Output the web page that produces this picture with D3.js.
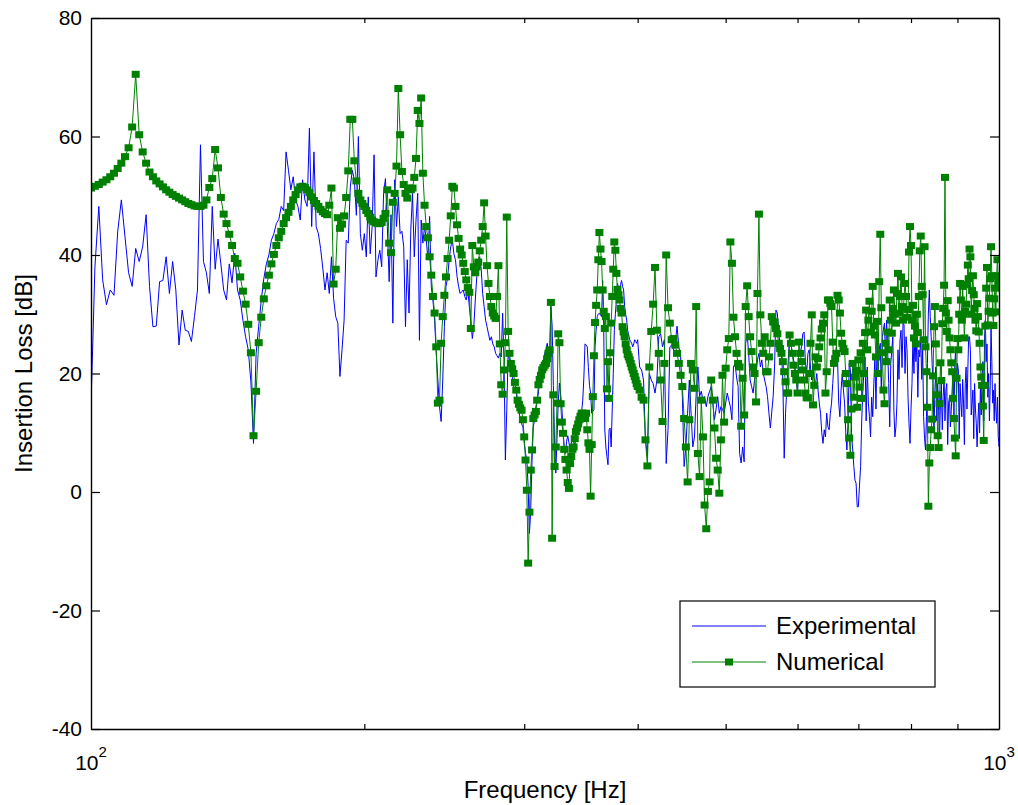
<!DOCTYPE html>
<html>
<head>
<meta charset="utf-8">
<script src="https://cdn.jsdelivr.net/npm/d3@7"></script>
<style>
  body { margin: 0; background: #fff; }
  svg { display: block; }
  text { font-family: "Liberation Sans", Arial, Helvetica, sans-serif; fill: #000; }
</style>
</head>
<body>
<svg id="chart" width="1018" height="805"></svg>
<script>
// Frequency sampling bands [start Hz, end Hz, step Hz]
const bands = [[100, 400, 1], [402, 1000, 2]];

// Measured insertion loss (dB) on the band grid
const experimental = [
  14.5, 38.0, 48.2, 35.8, 31.6, 34.1, 33.2, 43.9, 49.3, 43.1,
  37.0, 34.7, 41.1, 38.9, 41.4, 46.8, 34.7, 27.9, 28.0, 35.5,
  35.7, 39.7, 33.5, 38.9, 34.1, 24.8, 30.7, 27.3, 27.1, 25.4,
  29.6, 34.1, 58.6, 38.9, 37.0, 33.5, 48.2, 37.6, 42.7, 38.5,
  34.1, 32.4, 38.5, 35.3, 40.3, 34.1, 32.4, 29.0, 26.2, 24.0,
  18.6, 8.2, 23.4, 28.0, 32.4, 36.0, 38.5, 40.0, 42.5, 43.6,
  45.3, 46.0, 48.2, 47.5, 57.4, 54.3, 51.0, 53.2, 49.3, 48.2,
  45.9, 52.7, 49.3, 48.2, 61.4, 44.8, 57.4, 44.8, 43.6, 41.1,
  37.8, 34.1, 37.0, 33.5, 39.7, 32.7, 29.6, 28.5, 19.5, 24.0,
  29.0, 42.5, 42.0, 51.5, 54.3, 52.7, 46.7, 60.0, 43.6, 40.8,
  43.6, 39.7, 49.8, 40.2, 44.8, 56.9, 36.3, 39.1, 40.8, 38.0,
  50.4, 52.9, 44.8, 35.5, 46.8, 28.5, 52.7, 44.8, 49.8, 43.6,
  44.0, 41.4, 27.9, 39.2, 30.2, 44.2, 50.4, 39.7, 45.9, 50.4,
  25.6, 45.9, 42.0, 44.8, 42.7, 39.2, 46.5, 34.7, 32.4, 29.0,
  23.4, 18.9, 14.4, 11.9, 18.9, 27.9, 34.7, 36.1, 39.2, 41.4,
  42.5, 40.2, 39.2, 36.4, 34.7, 33.5, 33.8, 34.1, 33.0, 32.4,
  34.1, 31.3, 29.0, 25.9, 28.0, 32.4, 36.4, 39.2, 39.7, 37.6,
  33.5, 31.3, 29.0, 27.9, 26.7, 25.6, 26.2, 25.0, 24.5, 23.4,
  23.0, 22.6, 23.4, 22.8, 30.2, 22.3, 5.4, 13.8, 23.4, 22.3,
  21.1, 19.5, 17.8, 17.0, 16.7, 15.0, 13.8, 12.2, 11.5, 11.0,
  8.2, 6.5, 5.4, 0.9, -7.0, -3.0, 5.4, 11.0, 12.2, 14.4,
  15.5, 16.7, 18.9, 20.6, 21.5, 22.3, 23.4, 24.0, 25.1, 23.5,
  22.3, 31.3, 28.0, 18.0, 8.0, 3.2, 9.0, 15.0, 18.4, 16.5,
  14.4, 10.5, 7.6, 6.5, 8.5, 9.5, 8.4, 7.0, 8.2, 9.5,
  8.5, 7.8, 9.0, 10.5, 10.0, 11.0, 12.2, 13.5, 15.5, 19.4,
  25.0, 24.8, 24.5, 21.0, 18.0, 16.7, 13.3, 13.6, 13.9, 24.5,
  27.3, 29.6, 30.0, 30.2, 29.9, 29.6, 35.7, 28.0, 10.5, 7.6,
  6.0, 4.6, 10.5, 10.8, 7.6, 14.0, 20.0, 27.3, 30.0, 32.4,
  35.2, 34.5, 34.1, 35.0, 35.7, 34.7, 34.1, 31.3, 30.0, 29.0,
  27.3, 26.5, 25.7, 25.4, 25.1, 24.5, 25.0, 25.7, 25.4, 25.1,
  25.7,
  21.1, 20.6, 18.9, 8.8, 6.0, 20.0, 18.9, 18.3, 16.7, 18.9,
  26.2, 26.7, 24.5, 25.7, 4.8, 10.5, 24.5, 24.8, 24.0, 25.1,
  28.0, 24.5, 22.8, 16.1, 4.3, 7.6, 13.3, 18.9, 13.3, 7.6,
  9.3, 16.7, 21.1, 16.1, 17.0, 15.5, 16.1, 14.4, 16.1, 17.0,
  17.8, 15.0, 12.2, 14.0, 16.1, 13.3, 14.4, 14.0, 13.3, 15.0,
  16.7, 15.5, 14.4, 12.2, 21.1, 21.7, 19.4, 17.8, 6.5, 4.9,
  7.6, 5.1, 25.1, 26.7, 23.4, 18.9, 17.8, 16.7, 18.9, 20.0,
  22.3, 23.4, 21.1, 22.3, 20.0, 18.9, 17.8, 16.1, 13.3, 10.8,
  13.5, 16.1, 21.1, 30.7, 30.2, 26.7, 25.0, 23.4, 18.9, 5.7,
  13.3, 18.0, 22.3, 26.2, 25.1, 23.4, 22.3, 21.1, 18.9, 16.7,
  24.0, 23.4, 24.5, 26.7, 27.0, 22.0, 20.0, 23.4, 24.0, 21.1,
  18.9, 21.1, 18.3, 18.3, 20.0, 17.2, 15.0, 13.3, 10.0, 8.2,
  10.5, 9.3, 13.3, 11.0, 10.5, 13.3, 15.0, 18.3, 21.7, 22.5,
  24.5, 22.8, 15.0, 12.7, 17.2, 20.0, 17.2, 15.0, 10.0, 7.1,
  12.0, 21.7, 20.6, 10.0, 7.1, 4.3, 2.0, 1.5, -2.5, -2.5,
  1.0, 4.3, 12.0, 17.2, 20.3, 22.8, 12.0, 21.1, 15.0, 12.7,
  9.3, 16.0, 12.7, 18.3, 22.8, 14.0, 25.7, 20.0, 24.0, 25.1,
  17.0, 26.2, 27.5, 28.5, 22.0, 29.0, 24.0, 18.3, 11.0, 21.7,
  24.0, 26.2, 13.8, 9.3, 11.0, 15.0, 24.0, 19.0, 25.7, 27.3,
  21.0, 28.5, 28.2, 20.0, 26.2, 24.0, 16.0, 11.6, 8.2, 14.0,
  18.3, 26.2, 20.0, 27.3, 22.0, 25.1, 16.0, 24.0, 22.8, 26.2,
  19.0, 24.0, 12.7, 9.0, 7.1, 12.7, 21.7, 30.2, 34.1, 29.6,
  26.2, 21.7, 18.3, 10.0, 17.2, 21.1, 12.0, 18.3, 13.8, 9.0,
  15.0, 18.3, 10.5, 16.1, 19.4, 12.0, 17.2, 18.3, 8.0, 15.0,
  16.1, 11.0, 13.8, 17.2, 20.6, 12.0, 21.7, 24.0, 16.0, 21.7,
  20.6, 9.0, 18.3, 15.0, 12.7, 19.0, 15.0, 8.0, 18.3, 21.1,
  14.0, 20.6, 26.2, 26.2, 24.0, 13.0, 15.0, 17.2, 9.0, 18.3,
  14.0, 11.6, 7.6, 12.0, 15.0, 10.0, 18.0, 13.0, 20.0, 22.0,
  12.0, 26.0, 29.0, 22.0, 25.0, 16.0, 20.0, 12.0, 18.0, 28.0,
  22.0, 15.0, 17.2, 12.0, 18.3, 14.0, 11.6, 16.0, 9.5, 7.6
];

// Computed insertion loss (dB) on the same grid
const numerical = [
  51.3, 51.6, 51.9, 52.3, 52.7, 53.2, 53.8, 54.6, 55.5, 56.6,
  58.1, 61.6, 70.5, 60.3, 57.4, 55.5, 54.0, 53.2, 52.5, 52.0,
  51.5, 51.0, 50.6, 50.2, 49.9, 49.6, 49.3, 49.0, 48.7, 48.5,
  48.3, 48.2, 48.2, 48.4, 49.3, 51.4, 52.9, 57.8, 54.7, 49.7,
  46.9, 45.3, 43.5, 41.6, 39.4, 38.6, 36.3, 33.9, 31.7, 28.3,
  23.5, 9.5, 17.0, 25.2, 29.5, 32.6, 34.8, 36.6, 38.5, 40.1,
  41.6, 42.9, 44.0, 45.3, 46.3, 47.2, 48.2, 49.3, 50.2, 51.0,
  51.5, 51.6, 51.4, 51.0, 50.5, 49.8, 49.2, 48.7, 48.2, 47.7,
  47.3, 47.0, 46.8, 48.4, 51.3, 35.1, 37.6, 46.3, 44.5, 45.2,
  46.6, 49.7, 54.2, 62.9, 62.9, 55.9, 52.5, 50.4, 49.3, 48.7,
  48.2, 47.5, 47.0, 46.4, 45.9, 45.6, 45.4, 45.3, 45.3, 45.5,
  46.2, 47.0, 51.0, 42.0, 40.4, 48.9, 50.4, 55.0, 68.1, 60.3,
  54.1, 51.9, 50.4, 49.6, 51.3, 51.0, 51.3, 53.1, 56.3, 64.4,
  62.2, 66.5, 53.8, 48.4, 44.8, 42.9, 39.7, 36.6, 33.0, 30.2,
  24.5, 15.0, 15.5, 25.1, 29.6, 33.2, 36.3, 39.4, 42.5, 46.6,
  51.6, 51.3, 48.2, 45.1, 42.8, 41.0, 40.0, 38.6, 37.2, 35.8,
  34.5, 33.7, 27.6, 41.6, 38.0, 37.0, 38.0, 38.8, 40.7, 42.5,
  44.8, 48.8, 43.2, 38.2, 35.2, 33.0, 31.3, 30.2, 29.7, 29.3,
  33.0, 38.2, 25.0, 18.1, 16.5, 20.6, 25.2, 46.4, 27.1, 23.4,
  21.7, 20.8, 20.0, 18.5, 17.2, 15.5, 14.8, 14.2, 13.8, 12.2,
  9.3, 5.4, 0.3, -12.0, -3.4, 3.7, 7.1, 12.4, 13.0, 13.6,
  15.5, 18.1, 19.0, 19.7, 20.6, 21.0, 21.4, 21.7, 22.5, 23.4,
  24.0, 32.0, -7.8, 16.4, 4.3, 7.6, 15.0, 26.7, 25.2, 14.9,
  11.8, 9.9, 7.2, 5.5, 3.7, 1.6, 0.6, 4.8, 6.0, 7.2,
  7.6, 9.0, 10.2, 10.8, 11.5, 12.2, 12.8, 13.3, 13.3, 12.9,
  12.4, 13.3, 10.5, 8.3, 7.2, -0.7, 8.0, 16.1, 23.0, 28.6,
  31.5, 34.1, 39.2, 43.8, 41.0, 38.9, 34.1, 30.5, 27.6, 29.6,
  17.4, 22.0, 15.8, 23.5, 28.5, 33.0, 37.6, 42.2, 40.8, 36.9,
  34.2, 33.3, 32.4, 31.0, 30.2, 27.9, 27.0, 26.2, 25.0, 24.0,
  23.2, 22.8, 22.3, 21.7, 21.1, 20.6, 20.0, 19.5, 18.9, 18.3,
  17.8,
  17.2, 16.0, 15.5, 8.8, 4.4, 21.1, 27.1, 31.7, 37.9, 27.3,
  23.4, 18.9, 11.9, 21.7, 40.0, 31.1, 28.5, 25.7, 25.9, 24.8,
  23.4, 21.7, 19.7, 17.8, 12.4, 7.6, 1.7, 12.2, 21.7, 20.6,
  17.5, 31.3, 6.5, 2.6, 15.5, 9.3, -2.2, -6.2, 0.1, 1.7,
  18.9, 15.5, 10.8, 5.7, 3.7, -0.2, 8.8, 19.7, 11.8, 20.9,
  24.0, 25.9, 42.2, 38.6, 29.5, 26.2, 23.4, 21.7, 21.1, 11.1,
  19.2, 13.0, 31.3, 34.8, 29.6, 26.2, 23.7, 21.1, 20.0, 15.2,
  33.5, 46.9, 29.9, 25.1, 23.4, 26.2, 20.3, 20.3, 22.8, 25.1,
  29.6, 28.7, 28.7, 27.6, 26.7, 25.1, 24.2, 23.4, 22.0, 20.3,
  18.6, 16.7, 16.7, 26.5, 25.1, 23.4, 21.4, 20.0, 18.9, 16.7,
  25.3, 23.4, 22.0, 20.6, 18.9, 16.7, 15.9, 15.9, 20.0, 25.1,
  29.9, 14.7, 18.0, 22.8, 21.1, 22.5, 24.5, 26.0, 27.5, 28.5,
  29.9, 16.7, 20.3, 32.4, 32.4, 31.8, 31.3, 25.3, 21.7, 22.5,
  23.4, 33.2, 32.4, 30.2, 26.8, 25.1, 24.2, 23.7, 20.0, 18.3,
  12.2, 9.1, 6.2, 14.0, 21.7, 16.0, 19.4, 20.5, 14.3, 22.3,
  17.7, 23.5, 15.8, 25.1, 20.0, 26.9, 30.7, 24.0, 29.0, 32.2,
  27.0, 30.5, 34.7, 28.0, 26.5, 22.8, 28.8, 20.0, 35.5, 43.5,
  31.1, 23.5, 17.2, 14.9, 25.1, 22.0, 27.0, 24.0, 32.4, 29.0,
  26.8, 31.0, 34.1, 30.0, 28.5, 33.5, 36.9, 30.2, 33.0, 36.3,
  31.3, 29.0, 33.0, 35.2, 33.0, 29.5, 30.8, 40.5, 44.8, 41.6,
  29.0, 31.5, 26.0, 28.0, 25.0, 30.0, 26.9, 33.0, 40.7, 43.2,
  34.7, 33.3, 25.7, 41.4, 24.5, 20.3, 14.3, -2.4, 4.9, 7.5,
  10.5, 12.3, 19.6, 27.9, 31.3, 25.0, 16.4, 9.5, 7.5, 14.9,
  21.8, 18.8, 28.4, 31.0, 34.9, 53.1, 30.2, 27.1, 32.3, 29.0,
  26.0, 24.0, 21.8, 20.3, 15.8, 12.4, 9.1, 6.1, 19.2, 25.9,
  24.0, 30.0, 35.2, 32.4, 29.0, 34.7, 30.0, 26.0, 30.5, 31.7,
  35.0, 38.3, 36.0, 41.0, 39.7, 30.0, 34.0, 36.5, 33.3, 31.0,
  29.0, 27.2, 31.8, 29.6, 27.0, 25.1, 21.1, 19.4, 18.0, 14.5,
  8.7, 18.0, 28.0, 34.4, 37.9, 28.2, 30.5, 32.7, 36.0, 41.4,
  36.5, 30.2, 28.1, 32.6, 34.4, 30.4, 36.5, 39.2, 35.5, 36.0
];

const seriesNames = ["Experimental", "Numerical"];
const seriesColors = ["#0000ff", "#008000"];
const yTicks = [-40, -20, 0, 20, 40, 60, 80];
const xMinorTicks = [200, 300, 400, 500, 600, 700, 800, 900];
const xDecades = [{ value: 100, base: "10", exp: "2" }, { value: 1000, base: "10", exp: "3" }];

const svg = d3.select("#chart");
const plot = { left: 91, right: 999, top: 18, bottom: 729 };

const x = d3.scaleLog().domain([100, 1000]).range([plot.left, plot.right]);
const y = d3.scaleLinear().domain([-40, 80]).range([plot.bottom, plot.top]);

const freqs = bands.flatMap(([a, b, s]) => d3.range(a, b + s / 2, s));
const expData = freqs.map((f, i) => ({ f, v: experimental[i] }));
const numData = freqs.map((f, i) => ({ f, v: numerical[i] }));

svg.append("rect").attr("width", 1018).attr("height", 805).attr("fill", "#fff");

svg.append("defs").append("clipPath").attr("id", "plotClip")
  .append("rect")
  .attr("x", plot.left).attr("y", plot.top)
  .attr("width", plot.right - plot.left).attr("height", plot.bottom - plot.top);

// Data layer
const line = d3.line().x(d => x(d.f)).y(d => y(d.v));
const dataG = svg.append("g").attr("clip-path", "url(#plotClip)");

dataG.append("path").datum(expData)
  .attr("fill", "none").attr("stroke", seriesColors[0]).attr("stroke-width", 1)
  .attr("stroke-linejoin", "round").attr("d", line);

dataG.append("path").datum(numData)
  .attr("fill", "none").attr("stroke", seriesColors[1]).attr("stroke-width", 1)
  .attr("stroke-linejoin", "round").attr("d", line);

const mw = 8, mh = 7;
dataG.append("g").selectAll("rect").data(numData).join("rect")
  .attr("x", d => x(d.f) - mw / 2).attr("y", d => y(d.v) - mh / 2)
  .attr("width", mw).attr("height", mh)
  .attr("fill", seriesColors[1]);

// Axes box and ticks
const fontSize = 21;
const hyphenFormat = d => String(d);
function styleAxis(g) {
  g.attr("font-family", null).attr("font-size", null);
  g.select(".domain").attr("stroke", "#000").attr("stroke-width", 1.4);
  g.selectAll(".tick line").attr("stroke", "#000").attr("stroke-width", 1.2);
  g.selectAll(".tick text").attr("font-size", fontSize).attr("fill", "#000");
}

svg.append("g").attr("transform", `translate(${plot.left},0)`)
  .call(d3.axisLeft(y).tickValues(yTicks).tickSize(-9).tickSizeOuter(0).tickPadding(9).tickFormat(hyphenFormat))
  .call(styleAxis);

svg.append("g").attr("transform", `translate(${plot.right},0)`)
  .call(d3.axisRight(y).tickValues(yTicks).tickSize(-9).tickSizeOuter(0).tickFormat(""))
  .call(styleAxis);

svg.append("g").attr("transform", `translate(0,${plot.bottom})`)
  .call(d3.axisBottom(x).tickValues(xMinorTicks).tickSize(-5).tickSizeOuter(0).tickFormat(""))
  .call(styleAxis);

svg.append("g").attr("transform", `translate(0,${plot.top})`)
  .call(d3.axisTop(x).tickValues(xMinorTicks).tickSize(-5).tickSizeOuter(0).tickFormat(""))
  .call(styleAxis);

// Decade labels 10^2, 10^3
xDecades.forEach(d => {
  const t = svg.append("text")
    .attr("x", x(d.value)).attr("y", 770)
    .attr("text-anchor", "middle").attr("font-size", fontSize);
  t.append("tspan").text(d.base);
  t.append("tspan").attr("font-size", 15).attr("dy", -13).text(d.exp);
});

// Axis titles
svg.append("text")
  .attr("x", (plot.left + plot.right) / 2).attr("y", 798)
  .attr("text-anchor", "middle").attr("font-size", 24)
  .text("Frequency [Hz]");

svg.append("text")
  .attr("transform", `translate(32,${(plot.top + plot.bottom) / 2}) rotate(-90)`)
  .attr("text-anchor", "middle").attr("font-size", 24)
  .text("Insertion Loss [dB]");

// Legend
const legend = svg.append("g").attr("transform", "translate(680,601)");
legend.append("rect")
  .attr("width", 255).attr("height", 86)
  .attr("fill", "#fff").attr("stroke", "#000").attr("stroke-width", 1.2);

const rows = [25, 61];
seriesNames.forEach((name, i) => {
  const ry = rows[i];
  legend.append("line")
    .attr("x1", 12).attr("x2", 86).attr("y1", ry).attr("y2", ry)
    .attr("stroke", seriesColors[i]).attr("stroke-width", 1);
  if (i === 1) {
    legend.append("rect")
      .attr("x", 49 - mw / 2).attr("y", ry - mh / 2)
      .attr("width", mw).attr("height", mh).attr("fill", seriesColors[i]);
  }
  legend.append("text")
    .attr("x", 96).attr("y", ry + 8)
    .attr("font-size", 24)
    .text(name);
});
</script>
</body>
</html>
